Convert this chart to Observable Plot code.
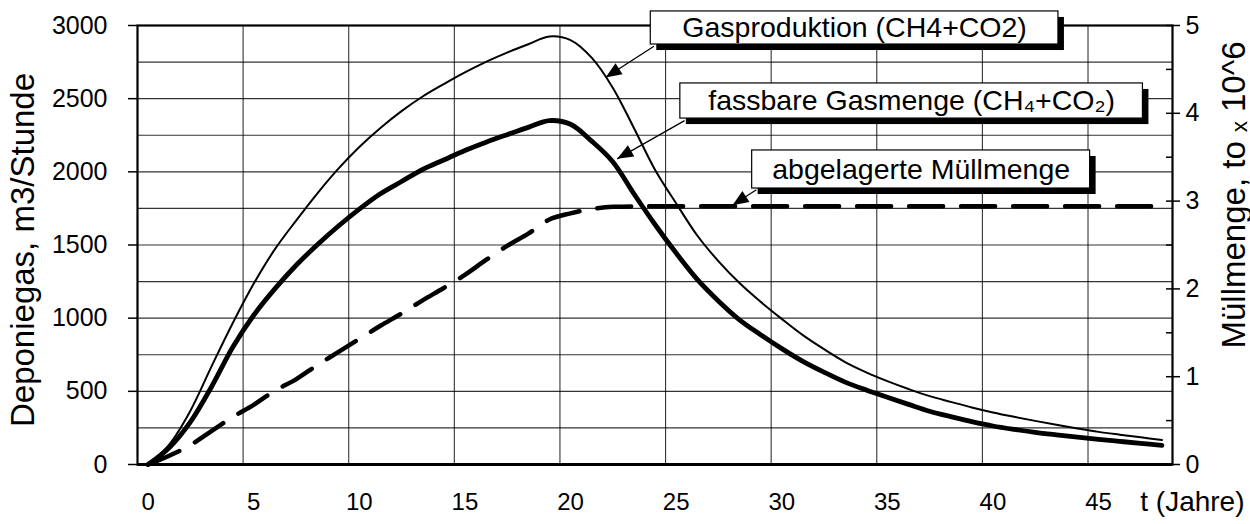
<!DOCTYPE html>
<html><head><meta charset="utf-8">
<script src="https://cdn.jsdelivr.net/npm/d3@7"></script>
<script src="https://cdn.jsdelivr.net/npm/@observablehq/plot@0.6"></script>
<style>
body{margin:0;background:#fff;}
#chart svg{display:block;}
</style></head><body><div id="chart"></div>
<script>
// ---- data (years 0..48, category axis: each year drawn at its category centre) ----
const years = d3.range(0, 49);
// Gasproduktion (CH4+CO2), m3/Stunde
const gasproduktion = [0,136,366,669,964,1235,1470,1665,1850,2020,2170,2300,2415,2515,2600,2680,2752,2815,2872,2925,2900,2780,2575,2300,2015,1785,1565,1390,1240,1112,995,884,788,700,630,570,516,467,428,390,356,326,298,271,246,223,204,186,167];
// fassbare Gasmenge (CH4+CO2), m3/Stunde
const fassbar = [0,115,290,530,800,1020,1200,1360,1500,1628,1745,1850,1934,2016,2081,2146,2203,2254,2304,2350,2325,2210,2069,1850,1640,1445,1265,1118,989,887,792,705,631,563,509,459,411,364,327,293,263,240,220,203,187,172,158,144,131];
// abgelagerte Müllmenge, to x 10^6 (right axis)
const muell = [0,0.10,0.22,0.38,0.54,0.68,0.84,0.97,1.13,1.28,1.43,1.58,1.72,1.87,2.01,2.16,2.33,2.49,2.63,2.79,2.86,2.91,2.935,2.94,2.94,2.94,2.94,2.94,2.94,2.94,2.94,2.94,2.94,2.94,2.94,2.94,2.94,2.94,2.94,2.94,2.94,2.94,2.94,2.94,2.94,2.94,2.94,2.94,2.94];

const xTickYears = [0,5,10,15,20,25,30,35,40,45];
const yTicksLeft = [0,500,1000,1500,2000,2500,3000];
const yTicksRight = [0,1,2,3,4,5];
const rightMax = 5, leftMax = 3000;
const ratio = leftMax / rightMax; // 1 unit on right axis = 600 on left axis

const labelTitleLeft = "Deponiegas, m3/Stunde";
const labelTitleRight = "Müllmenge, to \u2093 10^6";
const labelX = "t (Jahre)";

// annotation boxes (data coordinates)
const notes = [
  {text: "Gasproduktion (CH4+CO2)", x1: 24.3, x2: 43.6, y1: 2870, y2: 3096, ax: 24.45, ay: 2858, tx: 22.16, ty: 2645},
  {text: "fassbare Gasmenge (CH\u2084+CO\u2082)", x1: 25.7, x2: 47.6, y1: 2364, y2: 2604, ax: 25.9, ay: 2350, tx: 22.71, ty: 2089},
  {text: "abgelagerte Müllmenge", x1: 29.1, x2: 45.1, y1: 1886, y2: 2146, ax: 29.3, ay: 1878, tx: 28.17, ty: 1772}
];

const rows = years.map((yr, i) => ({x: yr + 0.5, gas: gasproduktion[i], fass: fassbar[i], m: muell[i] * ratio}));

const W = 1250, H = 524, mL = 137, mR = 78, mT = 25, mB = 60;
const xs = Plot.scale({x: {domain: [0, 49], range: [mL, W - mR]}});
const ys = Plot.scale({y: {domain: [0, leftMax], range: [H - mB, mT]}});
notes.forEach(n => {
  const dx = xs.apply(n.tx) - xs.apply(n.ax), dy = ys.apply(n.ty) - ys.apply(n.ay);
  n.rot = Math.atan2(dx, -dy) * 180 / Math.PI;
});
const headSymbol = {draw(ctx) { ctx.moveTo(0, 0); ctx.lineTo(6.5, 16); ctx.lineTo(-6.5, 16); ctx.closePath(); }};

const font = "'Liberation Sans', Arial, Helvetica, sans-serif";

const chart = Plot.plot({
  width: W, height: H,
  marginLeft: mL, marginRight: mR, marginTop: mT, marginBottom: mB,
  x: {domain: [0, 49]},
  y: {domain: [0, leftMax]},
  style: {fontFamily: font, fontSize: "24px", color: "#000", background: "#fff", overflow: "visible"},
  marks: [
    Plot.gridY(d3.range(250, 3000, 250), {stroke: "#000", strokeOpacity: 0.8, strokeWidth: 1.1}),
    Plot.gridX(xTickYears.filter(d => d > 0), {stroke: "#000", strokeOpacity: 0.8, strokeWidth: 1.1}),
    Plot.frame({stroke: "#000", strokeWidth: 2.2}),
    Plot.ruleY([0], {stroke: "#000", strokeWidth: 3}),
    Plot.axisX({ticks: xTickYears.map(d => d + 0.5), tickFormat: d => String(Math.round(d - 0.5)), tickSize: 0, tickPadding: 28, fontSize: 24, label: null}),
    Plot.axisY({ticks: yTicksLeft, tickFormat: d => String(d), tickSize: 9, tickPadding: 21, fontSize: 25, label: null, strokeWidth: 1.5}),
    Plot.axisY({anchor: "right", ticks: yTicksRight.map(d => d * ratio), tickFormat: d => String(Math.round(d / ratio)), tickSize: 7, tickPadding: 6, fontSize: 25, label: null, strokeWidth: 1.5}),
    Plot.axisY({anchor: "right", ticks: d3.range(0, 5.01, 0.5).map(d => d * ratio), tickFormat: () => "", tickSize: -7, label: null, strokeWidth: 1.5}),
    Plot.line(rows, {x: "x", y: "m", stroke: "#000", strokeWidth: 4.5, strokeDasharray: "34,18", curve: "monotone-x"}),
    Plot.line(rows, {x: "x", y: "fass", stroke: "#000", strokeWidth: 4.8, curve: "catmull-rom"}),
    Plot.line(rows, {x: "x", y: "gas", stroke: "#000", strokeWidth: 2, curve: "catmull-rom"}),
    // annotations
    Plot.link(notes, {x1: "ax", y1: "ay", x2: "tx", y2: "ty", stroke: "#000", strokeWidth: 1.3}),
    Plot.dot(notes, {x: "tx", y: "ty", symbol: headSymbol, fill: "#000", stroke: "none", rotate: "rot", r: 8}),
    Plot.rect(notes, {x1: "x1", x2: "x2", y1: "y1", y2: "y2", fill: "#000", dx: 6, dy: 6}),
    Plot.rect(notes, {x1: "x1", x2: "x2", y1: "y1", y2: "y2", fill: "#fff", stroke: "#000", strokeWidth: 1.2}),
    Plot.text(notes, {x: d => (d.x1 + d.x2) / 2, y: d => (d.y1 + d.y2) / 2, text: "text", fontSize: 28.5, fill: "#000"}),
    // axis titles
    Plot.text([labelTitleLeft], {frameAnchor: "left", textAnchor: "middle", rotate: -90, dx: -114, dy: 5, fontSize: 33, fill: "#000"}),
    Plot.text([labelTitleRight], {frameAnchor: "right", textAnchor: "middle", rotate: -90, dx: 62, dy: -50, fontSize: 33, fill: "#000"}),
    Plot.text([labelX], {frameAnchor: "bottom-right", textAnchor: "end", dx: 72, dy: 46, fontSize: 28, fill: "#000"})
  ]
});
document.getElementById("chart").appendChild(chart);
</script>
</body></html>
